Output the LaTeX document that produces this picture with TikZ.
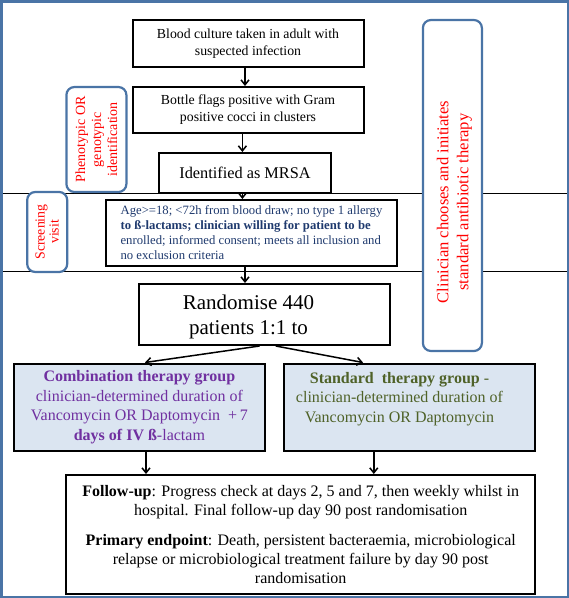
\documentclass[tikz,border=0pt]{standalone}
\usepackage{fontspec}
\setmainfont{Liberation Serif}
\usepackage{xcolor}
\usetikzlibrary{arrows.meta}

\definecolor{framecol}{HTML}{4A74A6}
\definecolor{critcol}{HTML}{1F3A6E}
\definecolor{combcol}{HTML}{7030A0}
\definecolor{stdcol}{HTML}{4F6228}
\definecolor{groupfill}{HTML}{DBE5F1}

\begin{document}
\begin{tikzpicture}[x=1pt,y=-1pt,
    flowbox/.style={draw=black,line width=2pt,fill=white,align=center,inner sep=2pt},
    groupbox/.style={flowbox,fill=groupfill,minimum width=251pt,minimum height=87pt},
    sidebox/.style={draw=framecol,line width=2.2pt,rounded corners=8pt,fill=white,
      rotate=90,align=center,text=red,inner sep=1pt},
    sidetext/.style={rotate=90,align=center,text=red,inner sep=0pt},
    arr/.style={-{Straight Barb[length=5pt,width=8pt]},line width=1.5pt}]

      \useasboundingbox (0,0) rectangle (569,598);
      \draw[framecol,line width=2.5pt] (1.25,1.25) rectangle (567.75,596.75);

      % phase lines
      \draw[thin] (2.5,193) -- (566.5,193);
      \draw[thin] (2.5,271) -- (566.5,271);

      \node[flowbox,minimum width=231pt,minimum height=47pt,font=\fontsize{13.8}{17}\selectfont]
        (blood) at (248,43.5) {Blood culture taken in adult with\\suspected infection};
      \node[flowbox,minimum width=231pt,minimum height=46pt,font=\fontsize{13.8}{17}\selectfont]
        (flags) at (248,110) {Bottle flags positive with Gram\\positive cocci in clusters};
      \node[flowbox,minimum width=172pt,minimum height=40pt,font=\fontsize{16.3}{18}\selectfont]
        (mrsa) at (245,173) {Identified as MRSA};
      \node[flowbox,minimum width=291pt,minimum height=66pt,align=left,text=critcol,
        font=\fontsize{12.7}{15}\selectfont]
        (crit) at (251.5,233) {Age>=18; <72h from blood draw; no type 1 allergy\\
        \textbf{to ß-lactams; clinician willing for patient to be}\\
        enrolled; informed consent; meets all inclusion and\\
        no exclusion criteria};
      \node[flowbox,minimum width=251pt,minimum height=61pt] (rand) at (264.5,314.5) {};
      \node[align=center,font=\fontsize{21}{25}\selectfont]
        (randtext) at (248.5,316.5) {Randomise 440\\patients 1:1 to};

      \node[groupbox,text=combcol,font=\fontsize{16}{19.5}\selectfont]
        (comb) at (139.4,407) {\textbf{Combination therapy group}\\clinician-determined duration of\\
        Vancomycin OR Daptomycin~~+\,7\\\textbf{days of IV ß}-lactam};
      \node[groupbox] (std) at (409.4,407) {};
      \node[align=center,text=stdcol,font=\fontsize{16}{19.5}\selectfont]
        (stdtext) at (399.5,407) {\textbf{Standard~~therapy group} -\\clinician-determined duration of\\
        Vancomycin OR Daptomycin\\\mbox{}};

      \node[flowbox,minimum width=469pt,minimum height=119pt,font=\fontsize{16}{19}\selectfont]
        (follow) at (300.7,534.5) {\textbf{Follow-up}: Progress check at days 2, 5 and 7, then weekly whilst in\\
        hospital. Final follow-up day 90 post randomisation\\[11pt]
        \textbf{Primary endpoint}: Death, persistent bacteraemia, microbiological\\
        relapse or microbiological treatment failure by day 90 post\\randomisation};

      % side labels
      \node[sidebox,minimum width=105pt,minimum height=60pt,font=\fontsize{14}{16}\selectfont]
        (pheno) at (96.4,139.5) {Phenotypic OR\\genotypic\\identification};
      \node[sidebox,minimum width=80pt,minimum height=40pt,font=\fontsize{13.8}{14}\selectfont]
        (screen) at (47.2,232) {Screening\\visit};
      \node[sidebox,minimum width=331pt,minimum height=59pt] (clin) at (452.4,185.5) {};
      \node[sidetext,font=\fontsize{16.6}{20}\selectfont]
        (clintext) at (454.5,202) {Clinician chooses and initiates\\standard antibiotic therapy};

      % connectors
      \draw[arr] ([xshift=-3pt]blood.south) -- ([xshift=-3pt]blood.south |- flags.north);
      \draw[arr] ([xshift=-5.6pt]flags.south) -- ([xshift=-5.6pt]flags.south |- mrsa.north);
      \draw[arr] ([xshift=-2.6pt]mrsa.south) -- ([xshift=-2.6pt]mrsa.south |- crit.north);
      \draw[arr] ([xshift=-6.5pt]crit.south) -- ([xshift=-6.5pt]crit.south |- rand.north);
      \draw[arr] ([xshift=-5pt]rand.south) -- ([xshift=5.6pt]comb.north);
      \draw[arr] ([xshift=11.3pt]rand.south) -- ([xshift=-46.4pt]std.north);
      \draw[arr] ([xshift=6.6pt]comb.south) -- ([xshift=6.6pt]comb.south |- follow.north);
      \draw[arr] ([xshift=-35.6pt]std.south) -- ([xshift=-35.6pt]std.south |- follow.north);

    \end{tikzpicture}
\end{document}
